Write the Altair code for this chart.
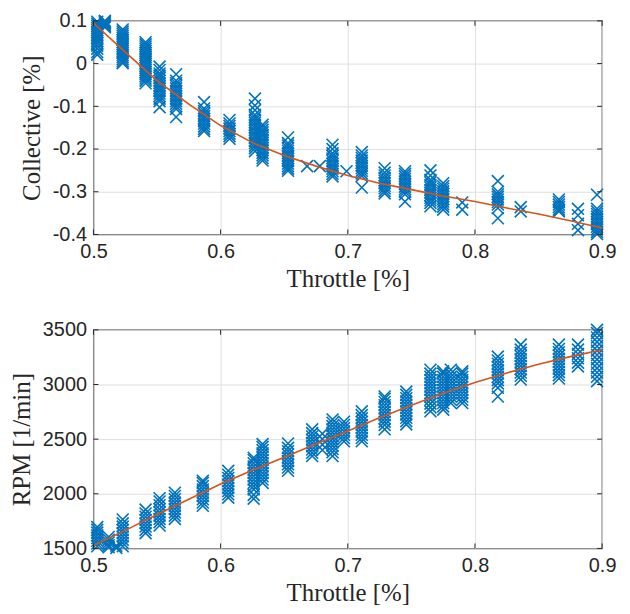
import altair as alt
import pandas as pd

# ---------------- data ----------------
# Top panel: throttle level -> collective samples
coll_levels = [0.503, 0.509, 0.523, 0.541, 0.552, 0.565, 0.587, 0.607, 0.627, 0.633,
               0.653, 0.668, 0.678, 0.688, 0.699, 0.711, 0.729, 0.745, 0.765, 0.775,
               0.790, 0.818, 0.836, 0.866, 0.881, 0.896]
coll_values = [
    [0.098, 0.093, 0.088, 0.083, 0.078, 0.073, 0.068, 0.063, 0.058, 0.053, 0.048, 0.042, 0.035, 0.027, 0.021],
    [0.100, 0.097, 0.094, 0.091, 0.088, 0.085],
    [0.080, 0.075, 0.070, 0.065, 0.060, 0.055, 0.050, 0.045, 0.040, 0.035, 0.030, 0.025, 0.020, 0.015, 0.010, 0.005, 0.001],
    [0.050, 0.045, 0.040, 0.035, 0.030, 0.025, 0.020, 0.015, 0.010, 0.005, 0.000, -0.005, -0.010, -0.015, -0.020, -0.025, -0.030, -0.035, -0.040, -0.046],
    [-0.007, -0.015, -0.023, -0.028, -0.034, -0.040, -0.046, -0.052, -0.058, -0.064, -0.070, -0.076, -0.082, -0.088, -0.102],
    [-0.025, -0.040, -0.046, -0.052, -0.058, -0.064, -0.070, -0.076, -0.082, -0.088, -0.094, -0.100, -0.106, -0.125],
    [-0.090, -0.105, -0.111, -0.117, -0.123, -0.129, -0.135, -0.141, -0.147, -0.153, -0.158],
    [-0.132, -0.140, -0.146, -0.152, -0.158, -0.164, -0.170, -0.176],
    [-0.082, -0.098, -0.109, -0.120, -0.126, -0.132, -0.138, -0.144, -0.150, -0.156, -0.162, -0.168, -0.174, -0.180, -0.186, -0.192, -0.198, -0.205],
    [-0.143, -0.149, -0.155, -0.161, -0.167, -0.173, -0.179, -0.185, -0.191, -0.197, -0.203, -0.209, -0.215, -0.221, -0.227],
    [-0.173, -0.186, -0.192, -0.198, -0.204, -0.210, -0.216, -0.222, -0.228, -0.234, -0.240, -0.246, -0.251],
    [-0.240],
    [-0.240],
    [-0.190, -0.200, -0.210, -0.216, -0.222, -0.228, -0.234, -0.240, -0.246, -0.252, -0.258, -0.264],
    [-0.252],
    [-0.207, -0.215, -0.221, -0.227, -0.233, -0.239, -0.245, -0.251, -0.257, -0.263, -0.290],
    [-0.245, -0.255, -0.262, -0.268, -0.274, -0.280, -0.286, -0.292, -0.298, -0.304],
    [-0.252, -0.258, -0.264, -0.270, -0.276, -0.282, -0.288, -0.294, -0.300, -0.306, -0.323],
    [-0.250, -0.262, -0.272, -0.278, -0.284, -0.290, -0.296, -0.302, -0.308, -0.314, -0.320, -0.326, -0.334],
    [-0.280, -0.287, -0.293, -0.299, -0.305, -0.311, -0.317, -0.323, -0.329, -0.335, -0.342],
    [-0.325, -0.342],
    [-0.275, -0.300, -0.306, -0.312, -0.318, -0.324, -0.330, -0.338, -0.362],
    [-0.336, -0.346],
    [-0.318, -0.324, -0.330, -0.336, -0.342, -0.346],
    [-0.340, -0.355, -0.375, -0.390],
    [-0.307, -0.340, -0.346, -0.352, -0.358, -0.364, -0.370, -0.376, -0.382, -0.388, -0.394, -0.399],
]

# Bottom panel: throttle level -> RPM samples
rpm_levels = [0.503, 0.512, 0.518, 0.523, 0.541, 0.552, 0.564, 0.586, 0.606, 0.626,
              0.633, 0.653, 0.672, 0.680, 0.688, 0.697, 0.711, 0.729, 0.746, 0.765,
              0.775, 0.781, 0.790, 0.818, 0.836, 0.866, 0.881, 0.896]
rpm_values = [
    [1520, 1545, 1570, 1595, 1620, 1645, 1670, 1695],
    [1510, 1530, 1555, 1580, 1605],
    [1505, 1525],
    [1520, 1550, 1580, 1610, 1640, 1670, 1700, 1730, 1765],
    [1640, 1670, 1700, 1730, 1760, 1790, 1820, 1855],
    [1710, 1740, 1770, 1800, 1830, 1860, 1895, 1930, 1960],
    [1770, 1800, 1830, 1860, 1890, 1920, 1950, 1980, 2010],
    [1890, 1920, 1950, 1980, 2010, 2040, 2070, 2100, 2120],
    [1965, 1995, 2025, 2055, 2085, 2115, 2145, 2175, 2210],
    [1955, 1990, 2040, 2070, 2100, 2130, 2160, 2190, 2220, 2250, 2280, 2310, 2330],
    [2100, 2130, 2160, 2190, 2220, 2250, 2280, 2310, 2340, 2370, 2400, 2430, 2455],
    [2210, 2240, 2270, 2300, 2330, 2360, 2390, 2420, 2460],
    [2345, 2375, 2405, 2435, 2465, 2495, 2525, 2555, 2590],
    [2400, 2450, 2500, 2550],
    [2345, 2380, 2410, 2440, 2470, 2500, 2530, 2560, 2590, 2620, 2650, 2680],
    [2480, 2510, 2540, 2570, 2600, 2630, 2660],
    [2480, 2510, 2540, 2570, 2600, 2630, 2660, 2690, 2720, 2755],
    [2590, 2630, 2660, 2690, 2720, 2750, 2780, 2810, 2840, 2870, 2890],
    [2635, 2665, 2695, 2725, 2755, 2785, 2815, 2845, 2875, 2905, 2935],
    [2755, 2790, 2825, 2860, 2890, 2920, 2950, 2980, 3010, 3040, 3070, 3100, 3135],
    [2770, 2800, 2830, 2860, 2890, 2920, 2950, 2980, 3010, 3040, 3070, 3100, 3120],
    [2830, 2860, 2890, 2920, 2950, 2980, 3010, 3040, 3070, 3100, 3135],
    [2830, 2860, 2890, 2920, 2950, 2980, 3010, 3040, 3070, 3100, 3120],
    [2890, 2970, 3010, 3040, 3070, 3100, 3130, 3160, 3190, 3220, 3255],
    [3045, 3080, 3110, 3140, 3170, 3200, 3230, 3260, 3290, 3320, 3365],
    [3055, 3085, 3115, 3145, 3175, 3205, 3235, 3265, 3295, 3325, 3365],
    [3165, 3200, 3240, 3280, 3320, 3365],
    [3030, 3070, 3110, 3150, 3190, 3230, 3270, 3310, 3350, 3390, 3430, 3470, 3500],
]

# Fitted curves
fit_throttle = [0.500, 0.525, 0.550, 0.575, 0.600, 0.625, 0.650, 0.675, 0.700,
                0.725, 0.750, 0.775, 0.800, 0.825, 0.850, 0.875, 0.900]
fit_collective = [0.095, 0.027, -0.040, -0.095, -0.145, -0.185, -0.215, -0.240, -0.262,
                  -0.280, -0.295, -0.310, -0.323, -0.338, -0.352, -0.368, -0.385]
fit_rpm = [1527, 1665, 1810, 1950, 2090, 2215, 2335, 2455, 2575,
           2695, 2810, 2920, 3018, 3105, 3185, 3255, 3318]

x_ticks = [0.5, 0.6, 0.7, 0.8, 0.9]
coll_ticks = [0.1, 0, -0.1, -0.2, -0.3, -0.4]
rpm_ticks = [1500, 2000, 2500, 3000, 3500]

# ---------------- tables ----------------
top_df = pd.DataFrame(
    [(t, v) for t, vals in zip(coll_levels, coll_values) for v in vals],
    columns=["throttle", "value"])
bot_df = pd.DataFrame(
    [(t, v) for t, vals in zip(rpm_levels, rpm_values) for v in vals],
    columns=["throttle", "value"])
fit_top = pd.DataFrame({"throttle": fit_throttle, "value": fit_collective})
fit_bot = pd.DataFrame({"throttle": fit_throttle, "value": fit_rpm})
xt_df = pd.DataFrame({"throttle": x_ticks})

BLUE = "#0072BD"
ORANGE = "#D95319"
DARK = "#262626"
W = 512
XSHAPE = "M-1,-1L1,1M-1,1L1,-1"

axis_common = dict(
    labelFont="Liberation Sans", labelFontSize=20, labelColor=DARK,
    titleFont="Liberation Serif", titleFontSize=25, titleFontWeight="normal",
    titleColor=DARK, ticks=False, tickSize=0, domain=False,
    grid=True, gridColor="#DFDFDF", gridWidth=1,
    labelFlush=False, labelOverlap=False, labelPadding=7,
)


def panel(df, fit, y_domain, y_ticks, y_title, H):
    xs = alt.Scale(domain=[0.5, 0.9], nice=False, zero=False)
    ys = alt.Scale(domain=y_domain, nice=False, zero=False)
    xax = alt.Axis(values=x_ticks, format=".1f", title="Throttle [%]",
                   titlePadding=5, **axis_common)
    yax = alt.Axis(values=y_ticks, labelExpr="'' + datum.value", title=y_title,
                   titlePadding=8, **axis_common)
    pts = alt.Chart(df).mark_point(
        shape=XSHAPE, filled=False, size=144, strokeWidth=1.6,
        color=BLUE, opacity=1, clip=False
    ).encode(x=alt.X("throttle:Q", scale=xs, axis=xax),
             y=alt.Y("value:Q", scale=ys, axis=yax))
    line = alt.Chart(fit).mark_line(color=ORANGE, strokeWidth=1.6).encode(
        x=alt.X("throttle:Q", scale=xs),
        y=alt.Y("value:Q", scale=ys))
    ytd = pd.DataFrame({"value": y_ticks})
    tick_style = dict(color=DARK, strokeWidth=1)
    xb = alt.Chart(xt_df).mark_rule(**tick_style).encode(
        x=alt.X("throttle:Q", scale=xs), y=alt.value(H), y2=alt.value(H - 5))
    xt = alt.Chart(xt_df).mark_rule(**tick_style).encode(
        x=alt.X("throttle:Q", scale=xs), y=alt.value(0), y2=alt.value(5))
    yl = alt.Chart(ytd).mark_rule(**tick_style).encode(
        y=alt.Y("value:Q", scale=ys), x=alt.value(0), x2=alt.value(5))
    yr = alt.Chart(ytd).mark_rule(**tick_style).encode(
        y=alt.Y("value:Q", scale=ys), x=alt.value(W), x2=alt.value(W - 5))
    return alt.layer(pts, line, xb, xt, yl, yr).properties(width=W, height=H)


top = panel(top_df, fit_top, [-0.4, 0.1], coll_ticks, "Collective [%]", 215)
bottom = panel(bot_df, fit_bot, [1500, 3500], rpm_ticks, "RPM [1/min]", 220)

chart = alt.vconcat(top, bottom, spacing=27).properties(
    padding={"left": 0, "top": 0, "right": 5, "bottom": 0}
).configure_view(stroke=DARK, strokeWidth=1.3)

chart.save("out.html", embed_options={"renderer": "svg", "actions": False})
